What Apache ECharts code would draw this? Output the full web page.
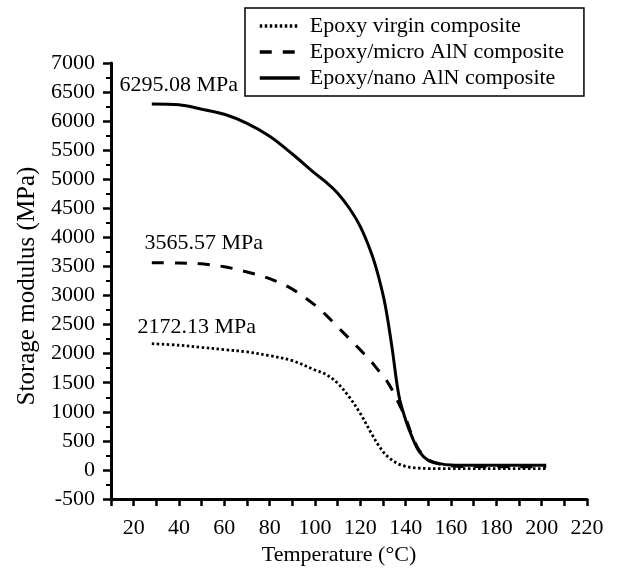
<!DOCTYPE html>
<html>
<head>
<meta charset="utf-8">
<script src="https://cdn.jsdelivr.net/npm/echarts@6/dist/echarts.min.js"></script>
<style>
  html, body { margin: 0; padding: 0; background: #fff; }
  #chart { width: 618px; height: 574px; }
</style>
</head>
<body>
<div id="chart"></div>
<script>
// Temperature sample points (°C), shared by all three curves
const temperature = [28, 40, 50, 60, 70, 80, 90, 100, 105, 110, 115, 120, 125, 128, 131, 134, 137, 140, 143, 146, 150, 155, 160, 170, 180, 190, 202];

// Storage modulus (MPa) at each temperature
const virginModulus = [2172.13, 2145, 2110, 2070, 2030, 1965, 1880, 1720, 1640, 1490, 1260, 970, 620, 425, 270, 170, 100, 62, 40, 30, 24, 22, 21, 21, 21, 21, 21];
const microModulus  = [3565.57, 3560, 3545, 3495, 3405, 3290, 3110, 2835, 2660, 2460, 2265, 2065, 1855, 1710, 1570, 1380, 1140, 890, 575, 335, 175, 100, 68, 58, 56, 55, 55];
const nanoModulus   = [6295.08, 6280, 6205, 6118, 5962, 5740, 5435, 5100, 4945, 4760, 4510, 4185, 3715, 3330, 2830, 2100, 1280, 860, 550, 315, 165, 108, 85, 80, 80, 80, 80];

const seriesNames = ['Epoxy virgin composite', 'Epoxy/micro AlN composite', 'Epoxy/nano AlN composite'];

const xTicks = { min: 10, max: 220, interval: 10 };
const yTicks = { min: -500, max: 7000, interval: 500 };

const FONT = '"Liberation Serif", "DejaVu Serif", serif';
const INK = '#000';

function pairs(values) {
  return values.map((v, i) => [temperature[i], v]);
}

// Value tag ("xxxx.xx MPa") placed at the first point of a curve
function startTag(values, offset) {
  return {
    symbol: 'circle',
    symbolSize: 0,
    silent: true,
    data: [{ coord: [temperature[0], values[0]], value: values[0] }],
    label: {
      show: true,
      position: 'top',
      offset: offset,
      formatter: p => p.value.toFixed(2) + ' MPa',
      fontFamily: FONT,
      fontSize: 22,
      color: INK
    }
  };
}

function curve(name, values, lineStyle, tagOffset) {
  return {
    name: name,
    type: 'line',
    smooth: 0.35,
    showSymbol: false,
    symbol: 'none',
    lineStyle: Object.assign({ color: INK }, lineStyle),
    itemStyle: { color: INK },
    data: pairs(values),
    markPoint: startTag(values, tagOffset)
  };
}

const chart = echarts.init(document.getElementById('chart'), null, { renderer: 'canvas' });

chart.setOption({
  animation: false,
  backgroundColor: '#fff',
  textStyle: { fontFamily: FONT, color: INK },
  grid: { left: 111, right: 31, top: 63, bottom: 75, containLabel: false },
  legend: {
    orient: 'vertical',
    left: 245,
    top: 8,
    padding: [6, 20, 6, 13],
    itemGap: 2,
    itemWidth: 40,
    itemHeight: 14,
    itemStyle: { opacity: 0 },
    lineStyle: { width: 3.5 },
    borderColor: INK,
    borderWidth: 1.5,
    borderRadius: 0,
    data: seriesNames,
    textStyle: { fontFamily: FONT, fontSize: 22, color: INK, lineHeight: 24, padding: [0, 0, 0, 5] }
  },
  xAxis: {
    type: 'value',
    min: xTicks.min,
    max: xTicks.max,
    interval: xTicks.interval,
    name: 'Temperature (°C)',
    nameLocation: 'middle',
    nameGap: 36,
    nameTextStyle: { fontFamily: FONT, fontSize: 22, color: INK, padding: [0, 20, 0, 0] },
    axisLine: { show: true, onZero: false, lineStyle: { color: INK, width: 3 } },
    axisTick: { show: true, inside: false, length: 7, lineStyle: { color: INK, width: 2.5 } },
    axisLabel: {
      margin: 18,
      fontFamily: FONT,
      fontSize: 22,
      color: INK,
      formatter: v => (v % 20 === 0 ? String(v) : '')
    },
    splitLine: { show: false }
  },
  yAxis: {
    type: 'value',
    min: yTicks.min,
    max: yTicks.max,
    interval: yTicks.interval,
    name: 'Storage modulus (MPa)',
    nameLocation: 'middle',
    nameGap: 67,
    nameTextStyle: { fontFamily: FONT, fontSize: 25, color: INK, padding: [0, 10, 0, 0] },
    axisLine: { show: true, onZero: false, lineStyle: { color: INK, width: 3 } },
    axisTick: { show: true, inside: false, length: 8, lineStyle: { color: INK, width: 2.5 } },
    minorTick: { show: true, splitNumber: 2, length: 5, lineStyle: { color: INK, width: 2 } },
    axisLabel: { margin: 16, fontFamily: FONT, fontSize: 22, color: INK, formatter: v => String(v) },
    splitLine: { show: false },
    minorSplitLine: { show: false }
  },
  series: [
    curve(seriesNames[0], virginModulus, { width: 2.8, type: [2.5, 2.5] }, [45, 0]),
    curve(seriesNames[1], microModulus, { width: 3, type: [12, 11] }, [52, -3]),
    curve(seriesNames[2], nanoModulus, { width: 3, type: 'solid' }, [27, -3])
  ]
});
</script>
</body>
</html>
